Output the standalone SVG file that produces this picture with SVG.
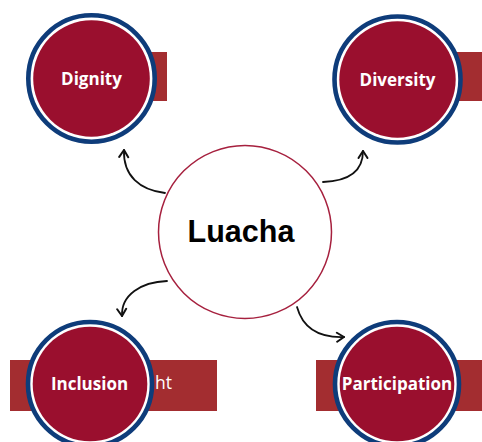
<svg xmlns="http://www.w3.org/2000/svg" width="482" height="442" viewBox="0 0 482 442">
<defs>
<style>
.band{fill:#a32d30}
.ring{fill:#ffffff;stroke:#0e3c7a;stroke-width:4.6}
.core{fill:#9a0f2e}
.lbl{font-family:"Open Sans","Liberation Sans",sans-serif;font-weight:700;font-size:17px;fill:#ffffff;text-anchor:middle}
.band-t{font-family:"Open Sans","Liberation Sans",sans-serif;font-size:17.5px;fill:#ffffff}
.conn{fill:none;stroke:#111111;stroke-width:1.8;stroke-linecap:round}
</style>
<marker id="ah" viewBox="0 0 12 12" refX="10" refY="6" markerWidth="12" markerHeight="12" markerUnits="userSpaceOnUse" orient="auto">
<path d="M3,1.5 L10,6 L3,10.5" fill="none" stroke="#111111" stroke-width="2" stroke-linecap="round" stroke-linejoin="round"/>
</marker>
</defs>
<rect width="482" height="442" fill="#ffffff"/>

<g id="center">
<circle cx="245" cy="232" r="86.5" fill="#ffffff" stroke="#a6203e" stroke-width="1.5"/>
<text x="241" y="242" font-family="'Liberation Sans',Arial,sans-serif" font-weight="700" font-size="30.5" fill="#000000" text-anchor="middle">Luacha</text>
</g>

<g id="connectors">
<path class="conn" d="M165,193 C140,190 123,176 124,150" marker-end="url(#ah)"/>
<path class="conn" d="M323,182 C350,181 363,170 363,151" marker-end="url(#ah)"/>
<path class="conn" d="M167,281 C141,282 121,295 122,316" marker-end="url(#ah)"/>
<path class="conn" d="M297,307 C302,325 315,338 344,337" marker-end="url(#ah)"/>
</g>

<g id="dignity">
<rect class="band" x="70" y="52" width="97" height="49"/>
<circle class="ring" cx="91.5" cy="78.5" r="63.2"/>
<circle class="core" cx="91.5" cy="78.5" r="58.3"/>
<text class="lbl" x="91.5" y="85">Dignity</text>
</g>

<g id="diversity">
<rect class="band" x="400" y="52" width="82" height="49"/>
<circle class="ring" cx="397.5" cy="79.5" r="63"/>
<circle class="core" cx="397.5" cy="79.5" r="58.2"/>
<text class="lbl" x="397.5" y="86">Diversity</text>
</g>

<g id="inclusion">
<rect class="band" x="10" y="360" width="207" height="51"/>
<text class="band-t" x="155" y="389">ht</text>
<circle class="ring" cx="90" cy="384" r="62"/>
<circle class="core" cx="90" cy="384" r="57.3"/>
<text class="lbl" x="89.5" y="389.5">Inclusion</text>
</g>

<g id="participation">
<rect class="band" x="316" y="360" width="166" height="51"/>
<circle class="ring" cx="397" cy="384" r="62"/>
<circle class="core" cx="397" cy="384" r="57.3"/>
<text class="lbl" x="397" y="389.5" font-size="16">Participation</text>
</g>
</svg>
